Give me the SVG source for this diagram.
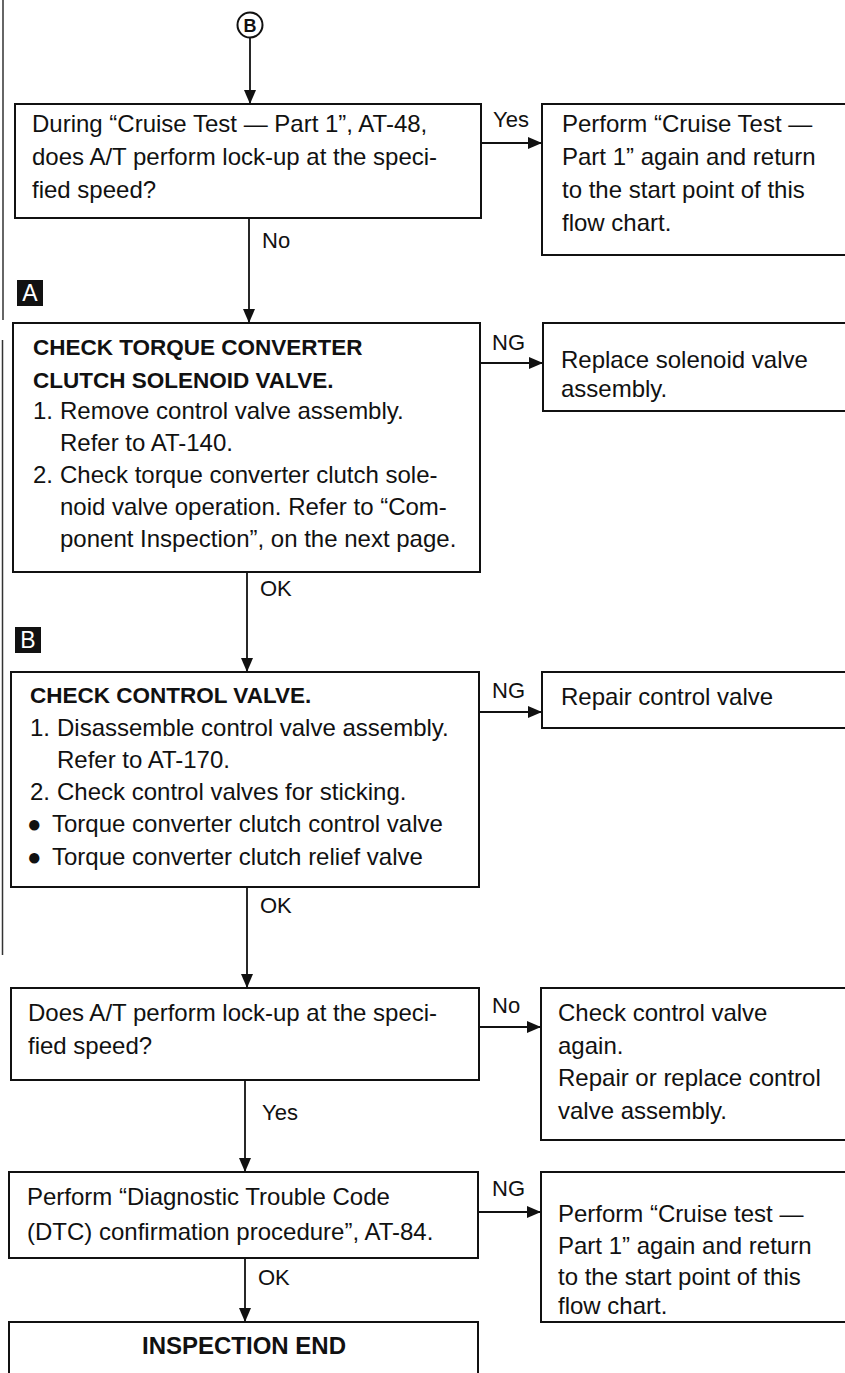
<svg xmlns="http://www.w3.org/2000/svg" width="845" height="1373" viewBox="0 0 845 1373">
  <style>
    .box { fill: #fff; stroke: #111; stroke-width: 2; }
    .open { fill: none; stroke: #111; stroke-width: 2; }
    .t { font-family: "Liberation Sans", Arial, sans-serif; font-size: 24px; fill: #111; }
    .b { font-weight: bold; }
    .h { font-family: "Liberation Sans", Arial, sans-serif; font-size: 22.5px; font-weight: bold; fill: #111; }
    .lbl { font-family: "Liberation Sans", Arial, sans-serif; font-size: 22px; fill: #111; }
    .edge { fill: none; stroke: #111; stroke-width: 1.8; marker-end: url(#ah); }
    .margin { stroke: #333; stroke-width: 1.5; }
    .tag { fill: #111; }
    .tagtxt { font-family: "Liberation Sans", Arial, sans-serif; font-size: 23px; fill: #fff; text-anchor: middle; }
  </style>
  <defs>
    <marker id="ah" markerUnits="userSpaceOnUse" markerWidth="14" markerHeight="12" refX="14" refY="6" orient="auto">
      <path d="M0,0 L14,6 L0,12 z" fill="#111"/>
    </marker>
  </defs>

  <rect width="845" height="1373" fill="#fff"/>

  <!-- binding rules along the left margin -->
  <g id="margin-rules">
    <line class="margin" x1="3" y1="0" x2="3" y2="320"/>
    <line class="margin" x1="2.5" y1="340" x2="2.5" y2="955"/>
  </g>

  <!-- connector B entry -->
  <g id="entry-b">
    <circle cx="250" cy="25" r="12.5" fill="none" stroke="#111" stroke-width="2"/>
    <text x="250" y="31.5" text-anchor="middle" font-family="Liberation Sans, Arial, sans-serif" font-weight="bold" font-size="18" fill="#111">B</text>
  </g>

  <!-- step markers -->
  <g id="tag-a">
    <rect class="tag" x="17" y="280" width="26" height="26"/>
    <text class="tagtxt" x="30" y="301">A</text>
  </g>
  <g id="tag-b">
    <rect class="tag" x="15" y="627" width="26" height="26"/>
    <text class="tagtxt" x="28" y="648">B</text>
  </g>

  <g id="q-cruise">
    <rect class="box" x="15" y="104" width="466" height="114"/>
    <text class="t" x="32" y="132">During “Cruise Test — Part 1”, AT-48,</text>
    <text class="t" x="32" y="165">does A/T perform lock-up at the speci-</text>
    <text class="t" x="32" y="198">fied speed?</text>
  </g>

  <g id="r-cruise-again">
    <rect class="box" x="542" y="104" width="310" height="151"/>
    <text class="t" x="562" y="132">Perform “Cruise Test —</text>
    <text class="t" x="562" y="165">Part 1” again and return</text>
    <text class="t" x="562" y="198">to the start point of this</text>
    <text class="t" x="562" y="231">flow chart.</text>
  </g>

  <g id="check-solenoid">
    <rect class="box" x="13" y="323" width="467" height="249"/>
    <text class="h" x="33" y="355">CHECK TORQUE CONVERTER</text>
    <text class="h" x="33" y="388">CLUTCH SOLENOID VALVE.</text>
    <text class="t"><tspan x="33" y="419">1.</tspan><tspan x="60" y="419">Remove control valve assembly.</tspan></text>
    <text class="t" x="60" y="451">Refer to AT-140.</text>
    <text class="t"><tspan x="33" y="483">2.</tspan><tspan x="60" y="483">Check torque converter clutch sole-</tspan></text>
    <text class="t" x="60" y="515">noid valve operation. Refer to “Com-</text>
    <text class="t" x="60" y="547">ponent Inspection”, on the next page.</text>
  </g>

  <g id="r-replace-solenoid">
    <rect class="box" x="543" y="323" width="310" height="88"/>
    <text class="t" x="561" y="368">Replace solenoid valve</text>
    <text class="t" x="561" y="397">assembly.</text>
  </g>

  <g id="check-control-valve">
    <rect class="box" x="11" y="672" width="468" height="215"/>
    <text class="h" x="30" y="703">CHECK CONTROL VALVE.</text>
    <text class="t"><tspan x="30" y="736">1.</tspan><tspan x="57" y="736">Disassemble control valve assembly.</tspan></text>
    <text class="t" x="57" y="768">Refer to AT-170.</text>
    <text class="t"><tspan x="30" y="800">2.</tspan><tspan x="57" y="800">Check control valves for sticking.</tspan></text>
    <text class="t"><tspan x="27" y="832">●</tspan><tspan x="52" y="832">Torque converter clutch control valve</tspan></text>
    <text class="t"><tspan x="27" y="865">●</tspan><tspan x="52" y="865">Torque converter clutch relief valve</tspan></text>
  </g>

  <g id="r-repair-control-valve">
    <rect class="box" x="542" y="672" width="310" height="56"/>
    <text class="t" x="561" y="705">Repair control valve</text>
  </g>

  <g id="q-lockup">
    <rect class="box" x="11" y="988" width="468" height="92"/>
    <text class="t" x="28" y="1021">Does A/T perform lock-up at the speci-</text>
    <text class="t" x="28" y="1054">fied speed?</text>
  </g>

  <g id="r-check-again">
    <rect class="box" x="541" y="988" width="312" height="152"/>
    <text class="t" x="558" y="1021">Check control valve</text>
    <text class="t" x="558" y="1054">again.</text>
    <text class="t" x="558" y="1086">Repair or replace control</text>
    <text class="t" x="558" y="1119">valve assembly.</text>
  </g>

  <g id="dtc-confirm">
    <rect class="box" x="9" y="1172" width="469" height="86"/>
    <text class="t" x="27" y="1205">Perform “Diagnostic Trouble Code</text>
    <text class="t" x="27" y="1240">(DTC) confirmation procedure”, AT-84.</text>
  </g>

  <g id="r-cruise-retry">
    <rect class="box" x="541" y="1172" width="312" height="150"/>
    <text class="t" x="558" y="1222">Perform “Cruise test —</text>
    <text class="t" x="558" y="1254">Part 1” again and return</text>
    <text class="t" x="558" y="1285">to the start point of this</text>
    <text class="t" x="558" y="1314">flow chart.</text>
  </g>

  <g id="inspection-end">
    <path class="open" d="M9,1380 V1322 H478 V1380"/>
    <text class="t b" x="244" y="1354" text-anchor="middle">INSPECTION END</text>
  </g>

  <!-- connectors and their branch labels -->
  <g id="connectors">
    <path class="edge" d="M250,38 V104"/>
    <path class="edge" d="M481,143 H542"/>
    <path class="edge" d="M249,218 V323"/>
    <path class="edge" d="M480,363 H543"/>
    <path class="edge" d="M247,572 V672"/>
    <path class="edge" d="M479,712 H542"/>
    <path class="edge" d="M247,887 V988"/>
    <path class="edge" d="M479,1027 H541"/>
    <path class="edge" d="M245,1080 V1172"/>
    <path class="edge" d="M478,1212 H541"/>
    <path class="edge" d="M245,1258 V1322"/>

    <text class="lbl" x="493" y="127">Yes</text>
    <text class="lbl" x="262" y="248">No</text>
    <text class="lbl" x="492" y="350">NG</text>
    <text class="lbl" x="260" y="596">OK</text>
    <text class="lbl" x="492" y="698">NG</text>
    <text class="lbl" x="260" y="913">OK</text>
    <text class="lbl" x="492" y="1013">No</text>
    <text class="lbl" x="262" y="1120">Yes</text>
    <text class="lbl" x="492" y="1196">NG</text>
    <text class="lbl" x="258" y="1285">OK</text>
  </g>
</svg>
